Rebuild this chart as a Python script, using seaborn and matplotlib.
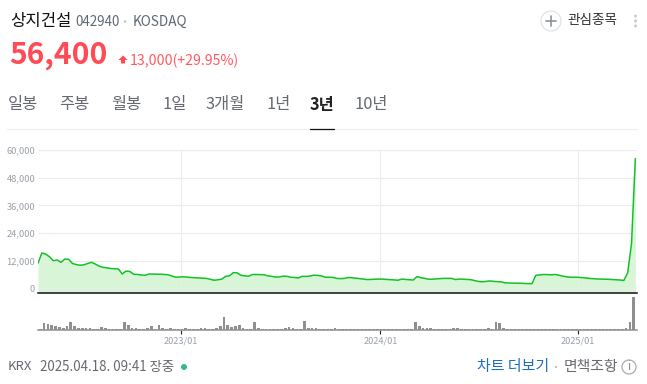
import matplotlib
matplotlib.use("Agg")
import matplotlib.pyplot as plt
import matplotlib.dates as mdates
import matplotlib.patches as mp
import pandas as pd
import seaborn as sns

# ---------- data ----------
NAME = "상지건설"
CODE = "042940"
MARKET = "KOSDAQ"
PRICE = "56,400"
CHANGE = "13,000(+29.95%)"
TABS = ["일봉", "주봉", "월봉", "1일", "3개월", "1년", "3년", "10년"]
Y_TICKS = [0, 12000, 24000, 36000, 48000, 60000]
X_TICK_DATES = ["2023-01-01", "2024-01-01", "2024-12-27"]
X_TICK_LABELS = ["2023/01", "2024/01", "2025/01"]

price_values = [
    10900, 15350, 14900, 13700, 12000, 12300, 11300, 12700, 12600, 10800,
    10300, 10000, 10200, 10800, 11300, 10500, 9600, 9100, 8900, 8600,
    8500, 8400, 6200, 7500, 7300, 6100, 6000, 5800, 5650, 6200,
    6200, 6150, 6100, 6000, 5900, 5300, 4800, 4900, 5000, 4850,
    4700, 4600, 4500, 4400, 4300, 3900, 3500, 3700, 4000, 5200,
    5400, 6800, 6700, 5650, 5400, 5250, 6000, 6000, 5950, 5900,
    5400, 5200, 4900, 4900, 5300, 5200, 4800, 4700, 4500, 5200,
    5150, 5300, 5700, 5600, 5400, 4800, 4800, 4750, 4300, 4200,
    4300, 4700, 4600, 4400, 4200, 4000, 3800, 3850, 3950, 4000,
    4000, 3850, 3750, 3650, 3500, 4000, 3850, 3700, 3600, 5100,
    4600, 4300, 3950, 3950, 4100, 4200, 4300, 4300, 4300, 3800,
    4000, 3950, 3850, 3750, 3350, 3000, 2800, 3000, 3200, 3000,
    2900, 2800, 2350, 2300, 2250, 2200, 2200, 2100, 2050, 2000,
    5650, 5800, 6000, 5950, 5850, 6000, 5700, 5300, 5000, 4800,
    4800, 4800, 4650, 4500, 4300, 4200, 4050, 4000, 3950, 3900,
    3800, 3700, 3600, 3400, 6800, 19500, 56400,
]
volume_values = [
    1, 6.3, 5.7, 4.3, 3.7, 2.3, 1.7, 3.7, 7.3, 3.7,
    1.3, 1.3, 1.3, 1.3, .7, .7, 2.7, 1.7, .7, .7,
    .7, .7, 7.3, 4.3, 1.7, 1.7, .5, .5, 1.7, 3.7,
    .7, 4.3, 1.7, .7, 1.7, .7, .5, .5, 1.7, .7,
    .5, .5, 1.3, 1.3, .5, .5, 1.7, 3.7, 12.7, 4.3,
    2.3, 3.3, 4.7, 1.7, .5, .5, 7.7, 1.7, .5, .5,
    .5, .5, .5, .5, 1.7, 2.7, 1.7, .5, .5, 8.7,
    1.7, 1.7, 1.7, .5, .5, .5, .5, 1.7, .5, .5,
    .5, .5, .5, .5, .5, .5, .5, .5, .5, .5,
    .5, .5, .5, .5, .5, .5, .5, .5, 8, 3.7,
    1.7, 1.7, 1.7, .7, .7, .5, .5, .5, 1.7, 1.7,
    .7, .7, .5, .5, .7, .5, .5, 1.7, .5, 7.7,
    6.3, 1.3, .5, .8, .8, .5, .8, .5, .5, .8,
    .8, .5, .5, .8, .5, .8, .5, .5, .5, .5,
    .5, .5, .5, .5, .5, .5, .5, .5, .5, .5,
    .5, .5, .5, 1.7, 7.3, 33,
]

# ---------- setup ----------
W, H = 647, 384
KR = ["Noto Sans CJK KR", "DejaVu Sans"]
sns.set_theme(style="white")
plt.rcParams["font.family"] = KR
fig = plt.figure(figsize=(W / 100, H / 100), dpi=100, facecolor="white")


def px_axes(left, top, right, bottom):
    return fig.add_axes([left / W, 1 - bottom / H, (right - left) / W, (bottom - top) / H])


price_dates = pd.date_range("2022-04-15", periods=len(price_values), freq="7D")
vol_dates = pd.date_range("2022-04-19", periods=len(volume_values), freq="7D")
price_df = pd.DataFrame({"x": mdates.date2num(price_dates), "price": price_values})
vol_df = pd.DataFrame({"x": mdates.date2num(vol_dates), "volume": volume_values})
xmin = mdates.date2num(pd.Timestamp("2022-04-15"))
xmax = xmin + 1095
xt = mdates.date2num(pd.to_datetime(X_TICK_DATES))

# ---------- price panel ----------
ax = px_axes(38, 150.3, 637, 292.5)
ax.set_facecolor("none")
ax.fill_between(price_df["x"], price_df["price"], -1900, color="#d9f5d7", lw=0, zorder=1)
ax.hlines(Y_TICKS, xmin, xmax, color="#ececec", lw=0.8, zorder=2)
ax.vlines(xt, 0, 60000, color="#ececec", lw=0.8, zorder=2)
sns.lineplot(data=price_df, x="x", y="price", ax=ax, color="#12c126", lw=1.1, zorder=3)
ax.set_xlim(xmin, xmax)
ax.set_ylim(-1830, 60000)
ax.set_xlabel("")
ax.set_ylabel("")
ax.set_xticks([])
ax.set_yticks(Y_TICKS)
ax.set_yticklabels([f"{v:,}" for v in Y_TICKS], fontsize=6.7, color="#9aa0a8")
ax.tick_params(axis="y", length=0, pad=2)
for s in ("top", "left", "right"):
    ax.spines[s].set_visible(False)
ax.spines["bottom"].set_color("#111111")
ax.spines["bottom"].set_linewidth(1.1)

# ---------- volume panel ----------
vx = px_axes(38, 295.7, 637, 329.7)
vx.set_facecolor("none")
sns.barplot(data=vol_df, x="x", y="volume", ax=vx, native_scale=True, color="#8f8f8f",
            saturation=1, width=0.7, linewidth=0)
vx.set_xlim(xmin, xmax)
vx.set_ylim(0, 34)
vx.set_xlabel("")
vx.set_ylabel("")
vx.set_yticks([])
vx.set_xticks(xt)
vx.set_xticklabels(X_TICK_LABELS, fontsize=6.6, color="#9aa0a8")
vx.tick_params(axis="x", length=2.6, width=0.8, color="#222222", pad=2, bottom=True)
for s in ("top", "left", "right"):
    vx.spines[s].set_visible(False)
vx.spines["bottom"].set_color("#8f8f8f")
vx.spines["bottom"].set_linewidth(1.1)

# ---------- page chrome ----------
ui = fig.add_axes([0, 0, 1, 1], zorder=5)
ui.set_xlim(0, W)
ui.set_ylim(H, 0)
ui.axis("off")
ui.patch.set_alpha(0)


def t(x, y, s, size, color, weight="normal", ha="left"):
    ui.text(x, y, s, fontsize=size, color=color, fontweight=weight, ha=ha, va="center", family=KR)


t(10, 21.5, NAME, 12, "#111111", "medium")
t(75, 22, CODE, 9.6, "#5f6872")
ui.add_patch(mp.Circle((125, 21.5), 1.2, color="#b9bdc3", lw=0))
t(133, 22, MARKET, 9.8, "#5f6872")
t(9, 55, PRICE, 21.6, "#ff4b55", "bold")
ui.add_patch(mp.Polygon([(123, 55.5), (127.5, 60), (125, 60), (125, 63.5), (121, 63.5), (121, 60), (118.5, 60)],
                        closed=True, color="#ff4b55", lw=0))
t(130, 60.5, CHANGE, 10.2, "#ff5a62")

tab_x = [8, 59, 111, 162, 206, 266, 310, 355]
for x, lab in zip(tab_x, TABS):
    if lab == "3년":
        t(x, 105, lab, 11.8, "#222222", "bold")
    else:
        t(x, 105, lab, 11.8, "#666a70")
ui.plot([7, 637], [129.3, 129.3], color="#eeeeee", lw=0.9)
ui.plot([310, 334], [129.3, 129.3], color="#111111", lw=0.9)

ui.add_patch(mp.Circle((551, 21), 10, fill=False, ec="#dfe2e6", lw=0.9))
ui.plot([546, 556], [21, 21], color="#8b929b", lw=1.2)
ui.plot([551, 551], [16, 26], color="#8b929b", lw=1.2)
t(567, 20, "관심종목", 9.8, "#333333")
for yy in (16, 21, 26):
    ui.add_patch(mp.Circle((635.5, yy), 1.5, color="#c8ccd2", lw=0))

t(8, 367, "KRX", 9.4, "#666a70")
t(40, 367, "2025.04.18. 09:41 장중", 9.6, "#666a70")
ui.add_patch(mp.Circle((184, 367), 3, color="#3cb58a", lw=0))
t(477, 366.5, "차트 더보기", 10.8, "#1f6fbf")
ui.add_patch(mp.Circle((556, 367), 1.1, color="#b9bdc3", lw=0))
t(564, 366.5, "면책조항", 10.7, "#666a70")
ui.add_patch(mp.Circle((629, 367), 7, fill=False, ec="#a8acb2", lw=0.9))
t(629, 367, "i", 8.5, "#8a8e94", ha="center")

fig.savefig("out.png", dpi=100, facecolor="white")
